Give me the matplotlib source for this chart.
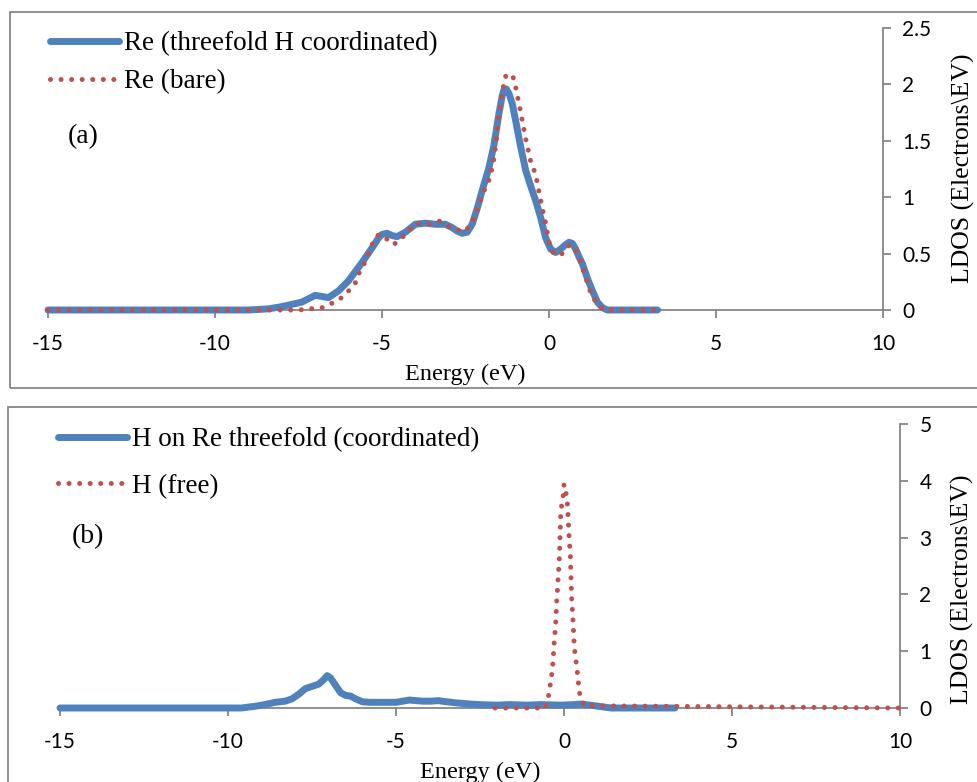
import matplotlib
matplotlib.use("Agg")
import matplotlib.pyplot as plt
import matplotlib.patches as mpatches

# ── Données ──
# (a) Re
re_h_x = [-15, -9.0, -8.4, -8.0, -7.7, -7.4, -7.2, -7.0, -6.8, -6.6, -6.3, -6.0, -5.6, -5.3,
          -5.1, -5.0, -4.85, -4.7, -4.55, -4.3, -4.0, -3.7, -3.4, -3.1, -2.9, -2.75, -2.6,
          -2.45, -2.3, -2.15, -2.0, -1.8, -1.65, -1.5, -1.4, -1.35, -1.28, -1.2, -1.1, -1.0,
          -0.85, -0.7, -0.55, -0.4, -0.25, -0.1, 0.05, 0.2, 0.35, 0.5, 0.6, 0.7, 0.8, 0.9,
          1.0, 1.15, 1.3, 1.45, 1.6, 1.75, 3.25]
re_h_y = [0, 0, 0.01, 0.03, 0.05, 0.07, 0.1, 0.13, 0.12, 0.11, 0.17, 0.26, 0.42, 0.55,
          0.64, 0.67, 0.68, 0.66, 0.65, 0.69, 0.76, 0.77, 0.76, 0.76, 0.73, 0.7, 0.68,
          0.69, 0.76, 0.9, 1.06, 1.26, 1.46, 1.74, 1.9, 1.95, 1.96, 1.92, 1.83, 1.68,
          1.45, 1.24, 1.1, 0.97, 0.82, 0.64, 0.54, 0.51, 0.54, 0.58, 0.6, 0.59, 0.54, 0.47,
          0.41, 0.28, 0.17, 0.07, 0.02, 0, 0]

re_bare_x = [-15, -7.5, -6.8, -6.5, -6.25, -6.0, -5.8, -5.7, -5.55, -5.4, -5.3, -5.1, -4.9,
             -4.65, -4.4, -4.2, -3.9, -3.6, -3.3, -3.0, -2.75, -2.5, -2.3, -2.17, -2.05, -1.94,
             -1.8, -1.72, -1.65, -1.58, -1.5, -1.4, -1.35, -1.28, -1.08, -1.0, -0.9, -0.8, -0.7,
             -0.55, -0.4, -0.3, -0.2, -0.1, 0.0, 0.15, 0.4, 0.62, 0.85, 0.95, 1.05, 1.15, 1.25,
             1.4, 1.65, 3.2]
re_bare_y = [0, 0, 0.02, 0.06, 0.1, 0.17, 0.24, 0.32, 0.4, 0.5, 0.58, 0.67, 0.64,
             0.58, 0.64, 0.71, 0.77, 0.76, 0.79, 0.74, 0.71, 0.7, 0.78, 0.87, 0.97, 1.06,
             1.15, 1.24, 1.34, 1.5, 1.71, 1.92, 2.01, 2.09, 2.07, 1.98, 1.83, 1.68, 1.52,
             1.32, 1.2, 1.05, 0.9, 0.77, 0.6, 0.49, 0.5, 0.58, 0.51, 0.42, 0.33, 0.24, 0.15,
             0.07, 0, 0]

# (b) H
h_re_x = [-15, -9.6, -9.2, -8.9, -8.6, -8.3, -8.1, -7.9, -7.7, -7.5, -7.3, -7.15, -7.05,
          -6.95, -6.8, -6.65, -6.5, -6.35, -6.2, -6.0, -5.8, -5.4, -5.0, -4.8, -4.6, -4.4,
          -4.2, -3.95, -3.75, -3.5, -3.2, -2.8, -2.5, -2.0, -1.6, -1.1, -0.7, -0.1, 0.3,
          0.5, 0.9, 1.4, 3.3]
h_re_y = [0, 0, 0.03, 0.06, 0.1, 0.12, 0.16, 0.24, 0.34, 0.38, 0.42, 0.5, 0.57,
          0.53, 0.4, 0.27, 0.22, 0.21, 0.16, 0.11, 0.1, 0.1, 0.1, 0.12, 0.14, 0.13,
          0.12, 0.12, 0.13, 0.11, 0.09, 0.07, 0.06, 0.05, 0.06, 0.05, 0.06, 0.05, 0.06,
          0.07, 0.04, 0.0, 0.0]

h_free_x = [-2.05, -0.55, -0.48, -0.43, -0.38, -0.34, -0.3, -0.25, -0.22, -0.18, -0.14, -0.12,
            -0.1, -0.07, -0.02, 0.0, 0.06, 0.1, 0.12, 0.15, 0.19, 0.21, 0.23, 0.27, 0.3, 0.33,
            0.38, 0.44, 0.48, 0.62, 10]
h_free_y = [0, 0, 0.15, 0.32, 0.53, 0.7, 1.08, 1.46, 1.85, 2.23, 2.61, 2.99,
            3.37, 3.57, 3.76, 3.94, 3.78, 3.6, 3.4, 3.03, 2.67, 2.27, 1.9, 1.52, 1.14, 0.94,
            0.73, 0.38, 0.19, 0.04, 0]

x_ticks = [-15, -10, -5, 0, 5, 10]
ylabel = 'LDOS (Electrons\\EV)'

BLUE = '#4F81BD'
RED = '#C0504D'
GRIS = '#868686'
SERIF = 'Liberation Serif'
SANS = 'Lato'

W, H = 978, 782
fig = plt.figure(figsize=(W / 100, H / 100), dpi=100)


def fx(px):
    return px / W


def fy(py):
    return 1 - py / H


def panneau(rect, lines, yticks, lbl, legend_pos, lblspace, tag_pos, ylab_pos):
    l, t, r, b = rect
    ax = fig.add_axes([fx(l), fy(b), fx(r) - fx(l), fy(t) - fy(b)])
    for x, y, kind, label in lines:
        if kind == 'solid':
            ax.plot(x, y, color=BLUE, lw=5, solid_capstyle='round', solid_joinstyle='round',
                    label=label, clip_on=False, zorder=3)
        else:
            ax.plot(x, y, color=RED, lw=3.6, linestyle=(0, (0.01, 2.1)),
                    dash_capstyle='round', label=label, clip_on=False, zorder=4)
    ax.set_xlim(-15, 10)
    ax.set_ylim(0, yticks[-1])
    ax.set_xticks(x_ticks)
    ax.set_xticklabels([str(v) for v in x_ticks])
    ax.set_yticks(yticks)
    ax.set_yticklabels([('%g' % v) for v in yticks])
    for s in ['top', 'left']:
        ax.spines[s].set_visible(False)
    for s in ['bottom', 'right']:
        ax.spines[s].set_color(GRIS)
        ax.spines[s].set_linewidth(1.3)
    ax.yaxis.tick_right()
    ax.tick_params(axis='both', colors=GRIS, length=6, width=1.3, direction='out',
                   labelcolor='black', labelsize=15)
    ax.tick_params(axis='x', pad=11)
    ax.tick_params(axis='y', pad=8)
    for t_ in ax.get_xticklabels() + ax.get_yticklabels():
        t_.set_fontfamily(SANS)
    ax.set_xlabel('Energy (eV)', fontfamily=SERIF, fontsize=17.5, labelpad=7)
    fig.text(fx(ylab_pos[0]), fy(ylab_pos[1]), ylabel, rotation=90, ha='center',
             va='center', fontfamily=SERIF, fontsize=18.5)
    ax.legend(loc='upper left', bbox_to_anchor=(fx(legend_pos[0]), fy(legend_pos[1])),
              bbox_transform=fig.transFigure, frameon=False,
              prop={'family': SERIF, 'size': 19.5}, handlelength=2.55,
              handletextpad=0.18, labelspacing=lblspace, borderpad=0, borderaxespad=0)
    fig.text(fx(tag_pos[0]), fy(tag_pos[1]), lbl, ha='center', va='center',
             fontfamily=SERIF, fontsize=20)
    return ax


# cadres gris des deux panneaux
fig.patches.append(mpatches.Rectangle((fx(10), fy(388)), 1.2, fy(12) - fy(388),
                                      transform=fig.transFigure, fill=False,
                                      edgecolor=GRIS, lw=1.3))
fig.patches.append(mpatches.Rectangle((fx(8), fy(800)), 1.2, fy(407) - fy(800),
                                      transform=fig.transFigure, fill=False,
                                      edgecolor=GRIS, lw=1.3))

panneau((48, 28, 883, 310),
        [(re_h_x, re_h_y, 'solid', 'Re (threefold H coordinated)'),
         (re_bare_x, re_bare_y, 'dot', 'Re (bare)')],
        [0, 0.5, 1, 1.5, 2, 2.5], '(a)', (50, 31), 0.5, (83, 137), (963, 168))

panneau((60, 424, 900, 708),
        [(h_re_x, h_re_y, 'solid', 'H on Re threefold (coordinated)'),
         (h_free_x, h_free_y, 'dot', 'H (free)')],
        [0, 1, 2, 3, 4, 5], '(b)', (58, 427), 0.8, (88, 537), (962, 589))

plt.savefig('out.png', dpi=100)
